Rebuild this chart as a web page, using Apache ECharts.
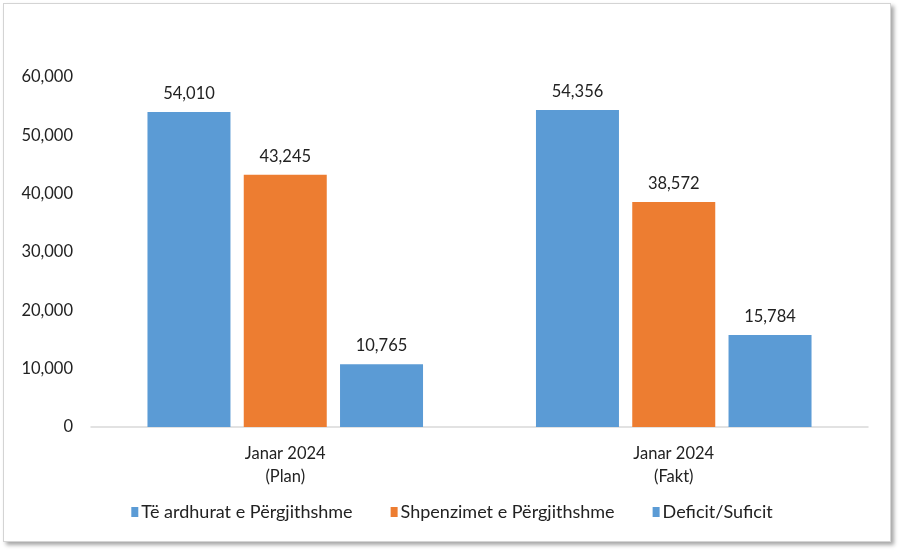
<!DOCTYPE html>
<html>
<head>
<meta charset="utf-8">
<script src="https://cdn.jsdelivr.net/npm/echarts@6/dist/echarts.min.js"></script>
<style>
  html, body { margin: 0; padding: 0; background: #fff; }
  #frame { position: absolute; left: 3px; top: 3px; width: 886px; height: 537px;
           border: 1px solid #d4d4d4; box-shadow: 3px 3px 4px rgba(0,0,0,0.35); background: #fff; }
  #chart { position: absolute; left: 0; top: 0; width: 904px; height: 556px; }
</style>
</head>
<body>
<div id="frame"></div>
<div id="chart"></div>
<script>
const categories = ['Janar 2024\n(Plan)', 'Janar 2024\n(Fakt)'];
const seriesNames = ['Të ardhurat e Përgjithshme', 'Shpenzimet e Përgjithshme', 'Deficit/Suficit'];
const revenues = [54010, 54356];
const expenditures = [43245, 38572];
const deficit = [10765, 15784];
const colors = ['#5B9BD5', '#ED7D31', '#5B9BD5'];

const font = 'Lato, "Open Sans", sans-serif';
const chart = echarts.init(document.getElementById('chart'));
const labelCfg = {
  show: true, position: 'top', distance: 10,
  color: '#222', fontSize: 16.5, fontFamily: font,
  formatter: p => p.value.toLocaleString('en-US')
};
chart.setOption({
  animation: false,
  backgroundColor: 'transparent',
  textStyle: { fontFamily: font },
  grid: { left: 91, right: 36, top: 77, bottom: 129, containLabel: false },
  legend: {
    top: 498, left: 'center',
    itemWidth: 7, itemHeight: 10, itemGap: 38,
    icon: 'rect',
    textStyle: { fontSize: 18, color: '#222', fontFamily: font, padding: [0, 0, 0, -2] },
    data: seriesNames
  },
  xAxis: {
    type: 'category', data: categories,
    axisLine: { lineStyle: { color: '#d9d9d9', width: 1.5 } },
    axisTick: { show: false },
    axisLabel: { fontSize: 16.5, color: '#222', lineHeight: 23, margin: 15, fontFamily: font }
  },
  yAxis: {
    type: 'value', min: 0, max: 60000, interval: 10000,
    axisLine: { show: false }, axisTick: { show: false },
    splitLine: { show: false },
    axisLabel: { fontSize: 16.5, color: '#222', margin: 18, fontFamily: font,
      formatter: v => v.toLocaleString('en-US') }
  },
  series: [
    { name: seriesNames[0], type: 'bar', data: revenues, barWidth: 83, barGap: '16%',
      itemStyle: { color: colors[0] }, label: labelCfg },
    { name: seriesNames[1], type: 'bar', data: expenditures, barWidth: 83, barGap: '16%',
      itemStyle: { color: colors[1] }, label: labelCfg },
    { name: seriesNames[2], type: 'bar', data: deficit, barWidth: 83, barGap: '16%',
      itemStyle: { color: colors[2] }, label: labelCfg }
  ]
});
</script>
</body>
</html>
